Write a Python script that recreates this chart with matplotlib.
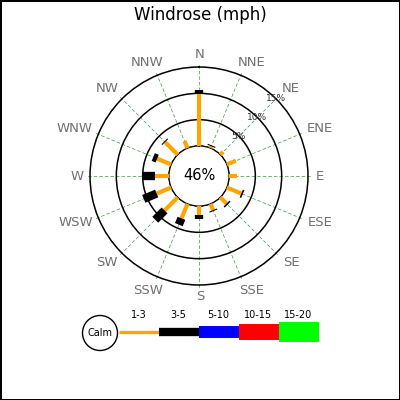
import numpy as np
import matplotlib
matplotlib.use("Agg")
import matplotlib.pyplot as plt

# wind directions, clockwise from north
directions = ["N", "NNE", "NE", "ENE", "E", "ESE", "SE", "SSE",
              "S", "SSW", "SW", "WSW", "W", "WNW", "NW", "NNW"]
speed_bins = ["1-3", "3-5", "5-10", "10-15", "15-20"]
bin_colors = ["#ffa500", "#000000", "#0000ff", "#ff0000", "#00ff00"]
bin_widths = [3, 6, 8.5, 11.5, 14.5]
calm_pct = 46

# percent of observations in each speed bin, per direction
pct_1_3 = [9.9, 0.4, 0.8, 1.9, 1.5, 3.0, 1.7, 1.3, 1.65, 3.0, 3.55, 3.0, 2.66, 2.9, 3.4, 1.5]
pct_3_5 = [0.75, 0.2, 0.0, 0.0, 0.0, 0.3, 0.3, 0.2, 0.75, 1.3, 2.5, 2.65, 2.5, 0.8, 0.2, 0.0]
pct_5_10 = [0.0] * 16
pct_10_15 = [0.0] * 16
pct_15_20 = [0.0] * 16
rings = [5, 10, 15]

# where the compass labels sit (pixels, from top-left)
label_xy = [(200, 54), (252, 63), (291, 89), (320, 128), (320, 176), (320, 223),
            (291, 263), (252, 290), (200, 296), (148, 290), (107, 263), (76, 223),
            (77.5, 176), (75, 129), (107.5, 89), (147, 63)]

fig = plt.figure(figsize=(4, 4), dpi=100)
fig.patch.set_edgecolor("black")
fig.patch.set_linewidth(2)
fig.suptitle("Windrose (mph)", y=0.985, fontsize=12)

ax = fig.add_axes([0.215, 0.2775, 0.565, 0.565], projection="polar")
ax.set_theta_zero_location("N")
ax.set_theta_direction(-1)
ax.set_rorigin(-5.7)
ax.set_rlim(0, 15.76)
ax.spines["polar"].set_visible(False)

theta = np.deg2rad(np.arange(16) * 22.5)
ax.set_xticks(theta)
ax.set_xticklabels([])
ax.set_yticks([0] + rings)
ax.set_yticklabels([])
ax.grid(axis="x", color="green", linestyle=(0, (5, 3)), linewidth=0.5, alpha=0.8)
ax.grid(axis="y", color="black", linestyle="-", linewidth=1.1)

# stacked radial bars
bins = [pct_1_3, pct_3_5, pct_5_10, pct_10_15, pct_15_20]
base = np.zeros(16)
for vals, col, lw in zip(bins, bin_colors, bin_widths):
    vals = np.array(vals)
    for t, b, v in zip(theta, base, vals):
        if v > 0:
            ax.plot([t, t], [b, b + v], color=col, lw=lw, solid_capstyle="butt", zorder=3)
    base = base + vals

for r in rings:
    ax.text(np.deg2rad(45), r, f"{r}%", fontsize=6.5, color="#333333",
            ha="center", va="center", zorder=4)
ax.text(0, -5.7, f"{calm_pct}%", fontsize=10.5, ha="center", va="center")

# overlay in pixel coordinates for compass labels and the legend
lax = fig.add_axes([0, 0, 1, 1])
lax.set_xlim(0, 400)
lax.set_ylim(400, 0)
lax.axis("off")
for name, (x, y) in zip(directions, label_xy):
    lax.text(x, y, name, color="#707070", fontsize=9.5, ha="center", va="center")

lax.add_patch(plt.Circle((100, 333), 17.5, fill=False, color="black", lw=1))
lax.text(100, 333, "Calm", fontsize=7, ha="center", va="center")
x0 = 118.5
for i, (lab, col, lw) in enumerate(zip(speed_bins, bin_colors, [2.4, 6, 8.6, 11.5, 14.4])):
    xs = x0 + 40 * i
    lax.plot([xs, xs + 40], [332, 332], color=col, lw=lw, solid_capstyle="butt")
    lax.text(xs + 20, 315, lab, fontsize=7, ha="center", va="center")

fig.savefig("out.png", dpi=100)
